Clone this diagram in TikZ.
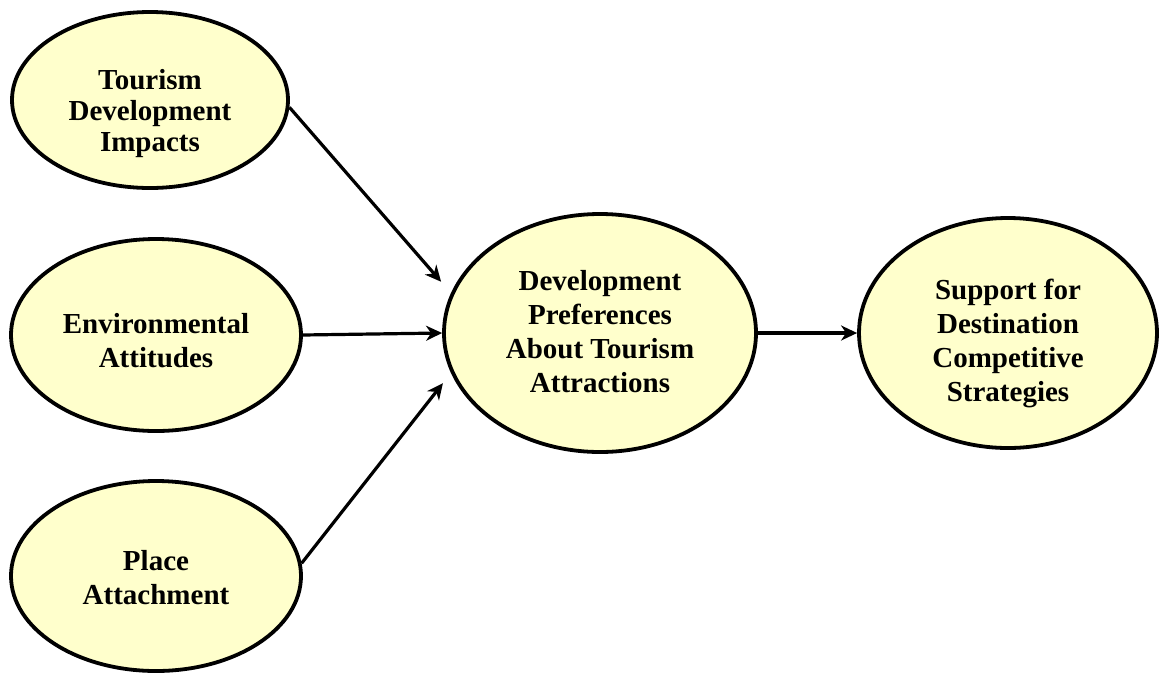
\documentclass[tikz,border=0pt]{standalone}
\usepackage{fontspec}
\setmainfont{Liberation Serif}
\usetikzlibrary{arrows.meta,shapes.geometric,calc}
\definecolor{yellowfill}{RGB}{255,255,204}
\begin{document}
\begin{tikzpicture}[x=1pt,y=-1pt,
  construct/.style={ellipse, draw=black, line width=3.8pt, fill=yellowfill, inner sep=0pt},
  caption/.style={align=center, font=\bfseries\fontsize{29}{34}\selectfont, inner sep=0pt},
  tight/.style={font=\bfseries\fontsize{29}{31}\selectfont},
  link/.style={line width=3.2pt, -{Stealth[length=16pt,width=15pt,inset=5pt]}}]
\useasboundingbox (0,0) rectangle (1159,673);

% constructs
\node[construct, minimum width=276pt, minimum height=176pt] (tdi)  at (150,100) {};
\node[construct, minimum width=290pt, minimum height=192pt] (ea)   at (156,335) {};
\node[construct, minimum width=290pt, minimum height=190pt] (pa)   at (156,576) {};
\node[construct, minimum width=312pt, minimum height=238pt] (dp)   at (600,333) {};
\node[construct, minimum width=298pt, minimum height=230pt] (sdcs) at (1008,333) {};

% captions
\node[caption, tight] (tdiT) at ($(tdi.center)+(0,14)$) {Tourism\\Development\\Impacts};
\node[caption] (eaT)   at ($(ea.center)+(0,6)$) {Environmental\\Attitudes};
\node[caption] (paT)   at ($(pa.center)+(0,2)$) {Place\\Attachment};
\node[caption] (dpT)   at ($(dp.center)+(0,-1)$) {Development\\Preferences\\About Tourism\\Attractions};
\node[caption] (sdcsT) at ($(sdcs.center)+(0,10)$) {Support for\\Destination\\Competitive\\Strategies};

% paths
\draw[link, shorten >=15pt] (tdi.-3) -- (dp.165);
\draw[link] (ea.east) -- (dp.west);
\draw[link, shorten >=13pt] (pa.5) -- (dp.-165.6);
\draw[link] (dp.east) -- (sdcs.west);
\end{tikzpicture}
\end{document}
